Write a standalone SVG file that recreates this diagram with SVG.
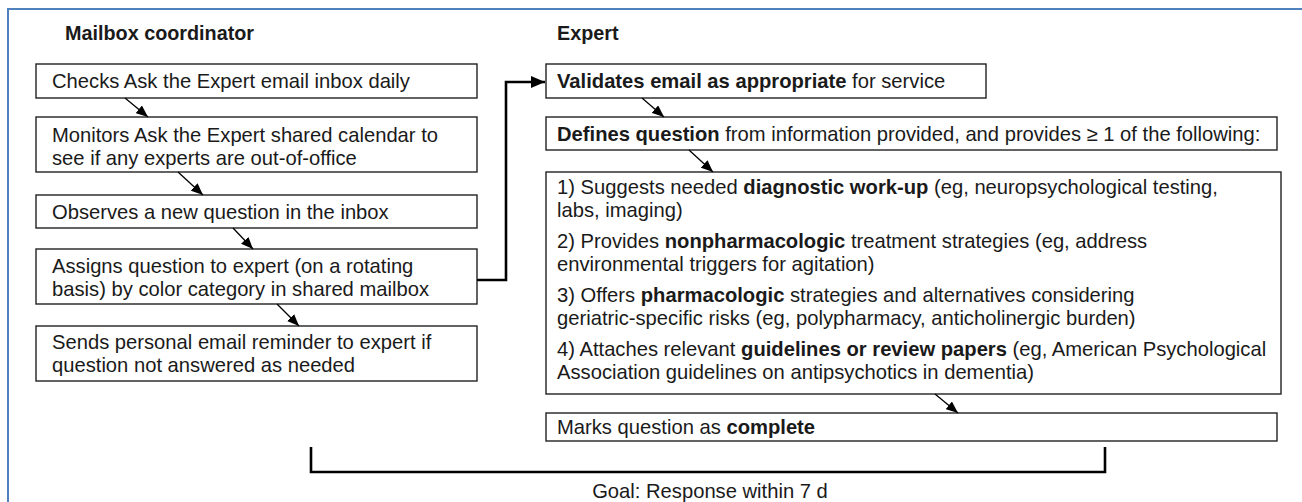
<svg xmlns="http://www.w3.org/2000/svg" width="1302" height="502" viewBox="0 0 1302 502">
<defs>
<marker id="ah" viewBox="0 0 12 10" refX="12" refY="5" markerWidth="12" markerHeight="10" markerUnits="userSpaceOnUse" orient="auto">
<path d="M0,0 L12,5 L0,10 Z" fill="#000"/>
</marker>
<marker id="ahb" viewBox="0 0 14 12" refX="14" refY="6" markerWidth="14" markerHeight="12" markerUnits="userSpaceOnUse" orient="auto">
<path d="M0,0 L14,6 L0,12 Z" fill="#000"/>
</marker>
</defs>
<style>
text{font-family:"Liberation Sans",Arial,Helvetica,sans-serif;font-size:20.2px;fill:#1a1a1a}
.h{font-weight:bold;font-size:19.8px}
.b{font-weight:bold}
.box{fill:#fff;stroke:#222;stroke-width:1.4}
.thin{fill:none;stroke:#000;stroke-width:1.3}
.thick{fill:none;stroke:#000;stroke-width:2.6}
</style>
<rect x="8" y="9" width="1310" height="510" fill="#fff" stroke="#4f81bd" stroke-width="2"/>
<g id="headers">
<text x="65" y="40" class="h">Mailbox coordinator</text>
<text x="557" y="40" class="h">Expert</text>
</g>
<g id="n1"><rect class="box" x="36" y="64" width="441" height="34"/><text x="52" y="88">Checks Ask the Expert email inbox daily</text></g>
<g id="n2"><rect class="box" x="36" y="117" width="441" height="55"/><text x="52" y="142">Monitors Ask the Expert shared calendar to</text><text x="52" y="165">see if any experts are out-of-office</text></g>
<g id="n3"><rect class="box" x="36" y="195" width="441" height="33"/><text x="52" y="219">Observes a new question in the inbox</text></g>
<g id="n4"><rect class="box" x="36" y="249" width="441" height="55"/><text x="52" y="273">Assigns question to expert (on a rotating</text><text x="52" y="296">basis) by color category in shared mailbox</text></g>
<g id="n5"><rect class="box" x="36" y="326" width="441" height="55"/><text x="52" y="349">Sends personal email reminder to expert if</text><text x="52" y="372">question not answered as needed</text></g>
<g id="e1"><rect class="box" x="546" y="64" width="440" height="34"/><text x="557" y="88"><tspan class="b">Validates email as appropriate</tspan> for service</text></g>
<g id="e2"><rect class="box" x="546" y="117" width="731" height="33"/><text x="557" y="141"><tspan class="b">Defines question</tspan> from information provided, and provides ≥ 1 of the following:</text></g>
<g id="e3"><rect class="box" x="546" y="172" width="735" height="222"/>
<text x="557" y="194">1) Suggests needed <tspan class="b">diagnostic work-up</tspan> (eg, neuropsychological testing,</text>
<text x="557" y="217">labs, imaging)</text>
<text x="557" y="248">2) Provides <tspan class="b">nonpharmacologic</tspan> treatment strategies (eg, address</text>
<text x="557" y="271">environmental triggers for agitation)</text>
<text x="557" y="302">3) Offers <tspan class="b">pharmacologic</tspan> strategies and alternatives considering</text>
<text x="557" y="325">geriatric-specific risks (eg, polypharmacy, anticholinergic burden)</text>
<text x="557" y="356">4) Attaches relevant <tspan class="b">guidelines or review papers</tspan> (eg, American Psychological</text>
<text x="557" y="379">Association guidelines on antipsychotics in dementia)</text>
</g>
<g id="e4"><rect class="box" x="546" y="413" width="731" height="28"/><text x="557" y="434">Marks question as <tspan class="b">complete</tspan></text></g>
<g id="goal"><text x="710" y="498" text-anchor="middle">Goal: Response within 7 d</text></g>
<g id="connectors">
<line class="thin" x1="125" y1="98" x2="148" y2="117" marker-end="url(#ah)"/>
<line class="thin" x1="178" y1="172" x2="203" y2="195" marker-end="url(#ah)"/>
<line class="thin" x1="233" y1="228" x2="253" y2="249" marker-end="url(#ah)"/>
<line class="thin" x1="277" y1="304" x2="299" y2="326" marker-end="url(#ah)"/>
<line class="thin" x1="642" y1="98" x2="664" y2="117" marker-end="url(#ah)"/>
<line class="thin" x1="689" y1="150" x2="713" y2="172" marker-end="url(#ah)"/>
<line class="thin" x1="935" y1="394" x2="958" y2="413" marker-end="url(#ah)"/>
<polyline class="thick" points="477,280 506,280 506,82 545,82" marker-end="url(#ahb)"/>
<polyline class="thick" points="311,447 311,472 1105,472 1105,447"/>
</g>
</svg>
